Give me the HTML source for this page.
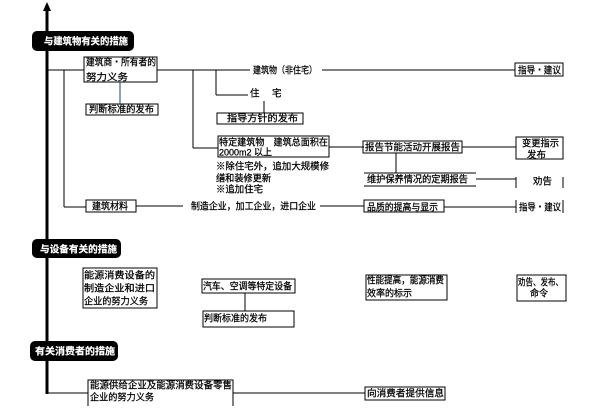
<!DOCTYPE html>
<html><head><meta charset="utf-8"><style>
html,body{margin:0;padding:0;background:#fff;}
svg{display:block;}
text{font-family:"Liberation Sans","Noto Sans CJK SC","WenQuanYi Zen Hei",sans-serif;font-size:9.5px;fill:#000;stroke:#000;stroke-width:0.25px;}
.h{fill:#fff;stroke:#fff;stroke-width:0.2px;font-weight:bold;}
</style></head><body>
<svg width="600" height="420" viewBox="0 0 600 420" xmlns="http://www.w3.org/2000/svg">
<g stroke="#000" stroke-width="1" fill="none" shape-rendering="crispEdges">
<!-- main axis -->
<line x1="47" y1="9" x2="47" y2="394" stroke-width="3"/>
<!-- section 1 lines -->
<line x1="47" y1="70" x2="84" y2="70"/>
<line x1="157" y1="70" x2="250" y2="70"/>
<line x1="64" y1="70" x2="64" y2="207"/>
<line x1="64" y1="207" x2="86" y2="207"/>
<line x1="193" y1="70" x2="193" y2="148"/>
<line x1="193" y1="148" x2="218" y2="148"/>
<line x1="216" y1="70" x2="216" y2="95"/>
<line x1="216" y1="95" x2="248" y2="95"/>
<line x1="322" y1="70" x2="515" y2="70"/>
<line x1="264" y1="101" x2="264" y2="113"/>
<line x1="329" y1="147" x2="364" y2="147"/>
<line x1="462" y1="147" x2="516" y2="147"/>
<line x1="396" y1="153" x2="396" y2="173"/>
<line x1="364" y1="173" x2="476" y2="173"/>
<line x1="364" y1="186" x2="476" y2="186"/>
<line x1="476" y1="179" x2="516" y2="179"/>
<line x1="516" y1="177" x2="516" y2="188"/>
<line x1="563" y1="177" x2="563" y2="188"/>
<line x1="136" y1="206" x2="183" y2="206"/>
<line x1="320" y1="206" x2="364" y2="206"/>
<line x1="444" y1="207" x2="516" y2="207"/>
<line x1="516" y1="200" x2="516" y2="213"/>
<line x1="563" y1="200" x2="563" y2="213"/>
<!-- boxes section 1 -->
<rect x="84" y="57" width="73" height="25"/>
<rect x="86" y="104" width="72" height="11"/>
<rect x="515" y="63" width="48" height="13"/>
<rect x="217" y="113" width="86" height="11"/>
<rect x="218" y="136" width="111" height="21"/>
<rect x="363" y="141" width="99" height="12"/>
<rect x="516" y="137" width="47" height="22"/>
<rect x="86" y="200" width="50" height="12"/>
<rect x="364" y="200" width="80" height="12"/>
<!-- section 2 -->
<rect x="83" y="268" width="74" height="40"/>
<rect x="202" y="279" width="93" height="14"/>
<line x1="245" y1="293" x2="245" y2="311"/>
<rect x="203" y="311" width="91" height="16"/>
<rect x="366" y="275" width="81" height="25"/>
<rect x="517" y="275" width="49" height="26"/>
<!-- section 3 -->
<line x1="47" y1="393" x2="88" y2="393"/>
<polyline points="88,406 88,380 233,380 233,406"/>
<line x1="233" y1="393" x2="365" y2="393"/>
<rect x="365" y="387" width="80" height="13"/>
</g>
<line x1="120" y1="82" x2="120" y2="104" stroke="#1a3d7a" stroke-width="1" shape-rendering="crispEdges"/>
<polygon points="47,2 43,11 51,11" fill="#000"/>
<!-- headers -->
<rect x="32" y="31" width="102" height="20" rx="5" fill="#000"/>
<text class="h" x="44" y="44.5" textLength="84" lengthAdjust="spacingAndGlyphs">与建筑物有关的措施</text>
<rect x="32" y="239" width="89" height="19" rx="5" fill="#000"/>
<text class="h" x="40" y="252.5" textLength="77" lengthAdjust="spacingAndGlyphs">与设备有关的措施</text>
<rect x="30" y="341" width="88" height="20" rx="5" fill="#000"/>
<text class="h" x="35" y="354.5" textLength="80" lengthAdjust="spacingAndGlyphs">有关消费者的措施</text>
<!-- texts section 1 -->
<text x="86" y="65.5" textLength="70" lengthAdjust="spacingAndGlyphs">建筑商・所有者的</text>
<text x="86" y="80.5" textLength="42" lengthAdjust="spacingAndGlyphs">努力义务</text>
<text x="89" y="112.5" textLength="65" lengthAdjust="spacingAndGlyphs">判断标准的发布</text>
<text x="253" y="73.5" textLength="64" lengthAdjust="spacingAndGlyphs">建筑物（非住宅）</text>
<text x="518" y="73.5" textLength="43" lengthAdjust="spacingAndGlyphs">指导・建议</text>
<text x="250" y="96.5">住</text>
<text x="272" y="96.5">宅</text>
<text x="227" y="121.5" textLength="71" lengthAdjust="spacingAndGlyphs">指导方针的发布</text>
<text x="219" y="145.5" textLength="109" lengthAdjust="spacingAndGlyphs">特定建筑物　建筑总面积在</text>
<text x="219" y="155.5" textLength="53" lengthAdjust="spacingAndGlyphs">2000m2 以上</text>
<text x="216" y="169.5" textLength="113" lengthAdjust="spacingAndGlyphs">※除住宅外，追加大规模修</text>
<text x="216" y="181.5" textLength="55" lengthAdjust="spacingAndGlyphs">缮和装修更新</text>
<text x="216" y="192.5" textLength="47" lengthAdjust="spacingAndGlyphs">※追加住宅</text>
<text x="365" y="150.5" textLength="95" lengthAdjust="spacingAndGlyphs">报告节能活动开展报告</text>
<text x="522" y="146.5" textLength="37" lengthAdjust="spacingAndGlyphs">变更指示</text>
<text x="527" y="158" textLength="19" lengthAdjust="spacingAndGlyphs">发布</text>
<text x="367" y="182.5" textLength="101" lengthAdjust="spacingAndGlyphs">维护保养情况的定期报告</text>
<text x="533" y="184.5" textLength="19" lengthAdjust="spacingAndGlyphs">劝告</text>
<text x="92" y="209.5" textLength="36" lengthAdjust="spacingAndGlyphs">建筑材料</text>
<text x="191" y="209.5" textLength="125" lengthAdjust="spacingAndGlyphs">制造企业，加工企业，进口企业</text>
<text x="367" y="210.5" textLength="71" lengthAdjust="spacingAndGlyphs">品质的提高与显示</text>
<text x="519" y="210.5" textLength="42" lengthAdjust="spacingAndGlyphs">指导・建议</text>
<!-- texts section 2 -->
<text x="84" y="278.5" textLength="71" lengthAdjust="spacingAndGlyphs">能源消费设备的</text>
<text x="84" y="291.5" textLength="71" lengthAdjust="spacingAndGlyphs">制造企业和进口</text>
<text x="84" y="304.5" textLength="64" lengthAdjust="spacingAndGlyphs">企业的努力义务</text>
<text x="203" y="289.5" textLength="89" lengthAdjust="spacingAndGlyphs">汽车、空调等特定设备</text>
<text x="204" y="321.5" textLength="63" lengthAdjust="spacingAndGlyphs">判断标准的发布</text>
<text x="367" y="283.5" textLength="77" lengthAdjust="spacingAndGlyphs">性能提高，能源消费</text>
<text x="367" y="296.5" textLength="45" lengthAdjust="spacingAndGlyphs">效率的标示</text>
<text x="518" y="285.5" textLength="45" lengthAdjust="spacingAndGlyphs">劝告、发布、</text>
<text x="530" y="296.5" textLength="18" lengthAdjust="spacingAndGlyphs">命令</text>
<!-- texts section 3 -->
<text x="90" y="388.5" textLength="142" lengthAdjust="spacingAndGlyphs">能源供给企业及能源消费设备零售</text>
<text x="90" y="400.5" textLength="64" lengthAdjust="spacingAndGlyphs">企业的努力义务</text>
<text x="367" y="396.5" textLength="77" lengthAdjust="spacingAndGlyphs">向消费者提供信息</text>
</svg>
</body></html>
